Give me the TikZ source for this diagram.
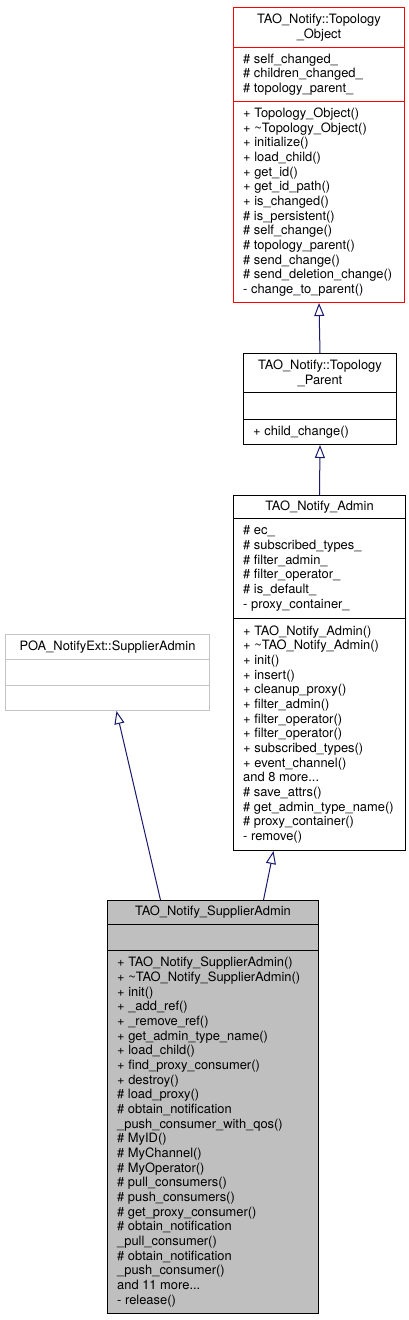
\documentclass[tikz,border=0pt]{standalone}
\usepackage{fontspec}
\setmainfont{TeX Gyre Heros}
\usetikzlibrary{arrows.meta}
\definecolor{arrowc}{HTML}{191970}
\definecolor{safill}{HTML}{BFBFBF}
\definecolor{poaline}{HTML}{C4C4C4}
\newcommand{\tl}{\textasciitilde}
\tikzset{
  sec/.style={draw, line width=1pt, anchor=north west, inner sep=0pt, minimum width=#1},
  redsec/.style={sec=#1, draw=red},
  poasec/.style={sec=#1, draw=poaline},
  sasec/.style={sec=#1, fill=safill},
  txt/.style={anchor=west, inner sep=0pt, align=left, font=\fontsize{12.9}{14.67}\selectfont},
  ttl/.style={inner sep=0pt, align=center, font=\fontsize{12.9}{14.67}\selectfont},
  inh/.style={draw=arrowc, line width=1pt, -{Triangle[open, length=13pt, width=10pt, fill=white]}},
}
\begin{document}
\begin{tikzpicture}[x=1pt, y=-1pt]
\useasboundingbox (0,0) rectangle (409,1320);
\fill[white] (0,0) rectangle (409,1320);

% TAO_Notify::Topology_Object
\node[redsec=171pt, minimum height=40pt, fill=white] (tot) at (233,7) {};
\node[redsec=171pt, minimum height=54pt, fill=white] (toa) at (233,47) {};
\node[redsec=171pt, minimum height=201pt, fill=white] (tom) at (233,101) {};
\node[ttl] (totx) at (tot.center) {TAO\_Notify::Topology\\\_Object};
\node[txt] (toax) at ([xshift=10pt]toa.west) {\# self\_changed\_\\\# children\_changed\_\\\# topology\_parent\_};
\node[txt] (tomx) at ([xshift=10pt]tom.west) {+ Topology\_Object()\\+ \tl Topology\_Object()\\+ initialize()\\+ load\_child()\\+ get\_id()\\+ get\_id\_path()\\+ is\_changed()\\\# is\_persistent()\\\# self\_change()\\\# topology\_parent()\\\# send\_change()\\\# send\_deletion\_change()\\- change\_to\_parent()};

% TAO_Notify::Topology_Parent
\node[sec=153pt, minimum height=39pt, fill=white] (tpt) at (243,353) {};
\node[sec=153pt, minimum height=27pt, fill=white] (tpa) at (243,392) {};
\node[sec=153pt, minimum height=25pt, fill=white] (tpm) at (243,419) {};
\node[ttl] (tptx) at (tpt.center) {TAO\_Notify::Topology\\\_Parent};
\node[txt] (tpmx) at ([xshift=10pt]tpm.west) {+ child\_change()};

% TAO_Notify_Admin
\node[sec=172pt, minimum height=23pt, fill=white] (adt) at (233,495) {};
\node[sec=172pt, minimum height=100pt, fill=white] (ada) at (233,518) {};
\node[sec=172pt, minimum height=232pt, fill=white] (adm) at (233,618) {};
\node[ttl] (adtx) at (adt.center) {TAO\_Notify\_Admin};
\node[txt] (adax) at ([xshift=10pt]ada.west) {\# ec\_\\\# subscribed\_types\_\\\# filter\_admin\_\\\# filter\_operator\_\\\# is\_default\_\\- proxy\_container\_};
\node[txt] (admx) at ([xshift=10pt]adm.west) {+ TAO\_Notify\_Admin()\\+ \tl TAO\_Notify\_Admin()\\+ init()\\+ insert()\\+ cleanup\_proxy()\\+ filter\_admin()\\+ filter\_operator()\\+ filter\_operator()\\+ subscribed\_types()\\+ event\_channel()\\and 8 more...\\\# save\_attrs()\\\# get\_admin\_type\_name()\\\# proxy\_container()\\- remove()};

% POA_NotifyExt::SupplierAdmin
\node[poasec=204pt, minimum height=25pt, fill=white] (pot) at (5,634) {};
\node[poasec=204pt, minimum height=26pt, fill=white] (poa) at (5,659) {};
\node[poasec=204pt, minimum height=25pt, fill=white] (pom) at (5,685) {};
\node[ttl] (potx) at (pot.center) {POA\_NotifyExt::SupplierAdmin};

% TAO_Notify_SupplierAdmin
\node[sasec=211pt, minimum height=24pt] (sat) at (107,900) {};
\node[sasec=211pt, minimum height=26pt] (saa) at (107,924) {};
\node[sasec=211pt, minimum height=363pt] (sam) at (107,950) {};
\node[ttl] (satx) at (sat.center) {TAO\_Notify\_SupplierAdmin};
\node[txt] (samx) at ([xshift=10pt]sam.west) {+ TAO\_Notify\_SupplierAdmin()\\+ \tl TAO\_Notify\_SupplierAdmin()\\+ init()\\+ \_add\_ref()\\+ \_remove\_ref()\\+ get\_admin\_type\_name()\\+ load\_child()\\+ find\_proxy\_consumer()\\+ destroy()\\\# load\_proxy()\\\# obtain\_notification\\\_push\_consumer\_with\_qos()\\\# MyID()\\\# MyChannel()\\\# MyOperator()\\\# pull\_consumers()\\\# push\_consumers()\\\# get\_proxy\_consumer()\\\# obtain\_notification\\\_pull\_consumer()\\\# obtain\_notification\\\_push\_consumer()\\and 11 more...\\- release()};

% inheritance arrows
\draw[inh] (tpt.north) -- (tom.south);
\draw[inh] (adt.north) -- (tpm.south);
\draw[inh] ([xshift=50.5pt]sat.north) -- ([xshift=-46pt]adm.south);
\draw[inh] ([xshift=-52.5pt]sat.north) -- ([xshift=9pt]pom.south);
\end{tikzpicture}
\end{document}
